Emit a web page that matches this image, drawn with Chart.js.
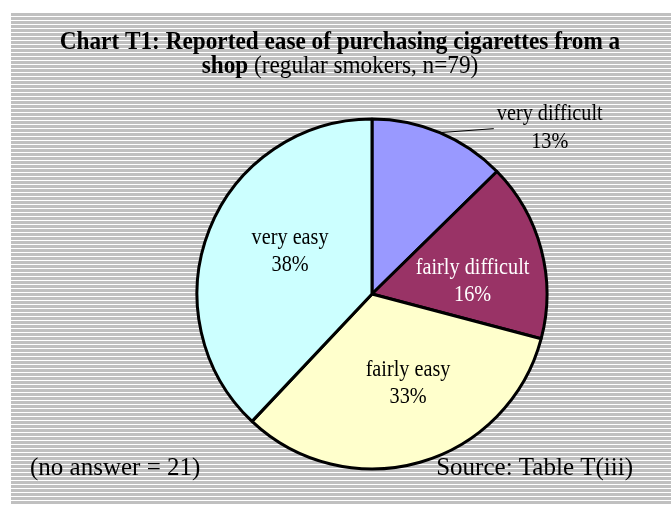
<!DOCTYPE html>
<html>
<head>
<meta charset="utf-8">
<script src="https://cdn.jsdelivr.net/npm/chart.js@4/dist/chart.umd.min.js"></script>
<style>
html,body{margin:0;padding:0;background:#fff;}
canvas{display:block;}
</style>
</head>
<body>
<canvas id="c" width="671" height="517"></canvas>
<script>
// ---- data ----
const categories = ["very difficult", "fairly difficult", "fairly easy", "very easy"];
const counts = [10, 13, 26, 30];           // regular smokers, n=79
const percentLabels = ["13%", "16%", "33%", "38%"];
const titleBold1 = "Chart T1: Reported ease of purchasing cigarettes from a";
const titleBold2 = "shop";
const titleNormal2 = " (regular smokers, n=79)";
const footLeft = "(no answer = 21)";
const footRight = "Source: Table T(iii)";

// ---- styles ----
const colors = ["#9999FF", "#993366", "#FFFFCC", "#CCFFFF"];
const labelColors = ["#000", "#fff", "#000", "#000"];
// label anchors: [angle in degrees (canvas), radius factor], null = outside label
const labelAnchor = [null, [-7.6, 0.58], [68, 0.55], [208, 0.53]];
const FONT = '"Liberation Serif", "Times New Roman", serif';

function scaledText(ctx, text, x, y, font, sx, align) {
  ctx.save();
  ctx.font = font;
  const w = ctx.measureText(text).width * sx;
  let left = x;
  if (align === 'center') left = x - w / 2;
  else if (align === 'right') left = x - w;
  ctx.translate(left, y);
  ctx.scale(sx, 1);
  ctx.textAlign = 'left';
  ctx.fillText(text, 0, 0);
  ctx.restore();
  return w;
}
function textW(ctx, text, font, sx) {
  ctx.save(); ctx.font = font; const w = ctx.measureText(text).width * sx; ctx.restore(); return w;
}

const bgPlugin = {
  id: 'bg',
  beforeDraw(chart) {
    const ctx = chart.ctx;
    ctx.save();
    ctx.fillStyle = '#fff';
    ctx.fillRect(0, 0, chart.width, chart.height);
    for (let y = 13; y < 505; y += 4) {
      ctx.fillStyle = '#c0c0c0';
      ctx.fillRect(11, y, chart.width - 11, Math.min(3, 505 - y));
    }
    ctx.restore();
  }
};

const textPlugin = {
  id: 'texts',
  afterDatasetsDraw(chart) {
    const ctx = chart.ctx;
    const meta = chart.getDatasetMeta(0);
    const LF = '23px ' + FONT, LS = 0.88;
    ctx.save();
    ctx.textBaseline = 'middle';
    meta.data.forEach((arc, i) => {
      const lines = [categories[i], percentLabels[i]];
      ctx.fillStyle = labelColors[i];
      if (labelAnchor[i]) {
        const a = labelAnchor[i][0] * Math.PI / 180;
        const r = arc.outerRadius * labelAnchor[i][1];
        const cx = arc.x + Math.cos(a) * r;
        const cy = arc.y + Math.sin(a) * r;
        scaledText(ctx, lines[0], cx, cy - 13, LF, LS, 'center');
        scaledText(ctx, lines[1], cx, cy + 14, LF, LS, 'center');
      } else {
        const mid = (arc.startAngle + arc.endAngle) / 2;
        const sx = arc.x + Math.cos(mid) * arc.outerRadius;
        const sy = arc.y + Math.sin(mid) * arc.outerRadius;
        const ex = sx + 54, ey = sy - 4;
        ctx.strokeStyle = '#000';
        ctx.lineWidth = 1;
        ctx.beginPath();
        ctx.moveTo(sx, sy);
        ctx.lineTo(ex, ey);
        ctx.stroke();
        const tx = ex + 56;
        scaledText(ctx, lines[0], tx, ey - 15, LF, LS, 'center');
        scaledText(ctx, lines[1], tx, ey + 13, LF, LS, 'center');
      }
    });

    // title
    ctx.fillStyle = '#000';
    ctx.textBaseline = 'alphabetic';
    const TB = 'bold 25px ' + FONT, TN = '25px ' + FONT, TS = 0.93;
    scaledText(ctx, titleBold1, 340, 49, TB, TS, 'center');
    const wb = textW(ctx, titleBold2, TB, TS);
    const wn = textW(ctx, titleNormal2, TN, TS);
    const x2 = 340 - (wb + wn) / 2;
    scaledText(ctx, titleBold2, x2, 73, TB, TS, 'left');
    scaledText(ctx, titleNormal2, x2 + wb, 73, TN, TS, 'left');

    // footers
    const FF = '25px ' + FONT;
    scaledText(ctx, footLeft, 30, 475, FF, 1, 'left');
    scaledText(ctx, footRight, 633, 475, FF, 1, 'right');
    ctx.restore();
  }
};

new Chart(document.getElementById('c'), {
  type: 'pie',
  data: {
    labels: categories,
    datasets: [{
      data: counts,
      backgroundColor: colors,
      borderColor: '#000',
      borderWidth: 3,
      radius: 175
    }]
  },
  options: {
    responsive: false,
    animation: false,
    layout: { padding: { top: 119, bottom: 48, left: 73, right: 0 } },
    plugins: {
      legend: { display: false },
      tooltip: { enabled: false },
      title: { display: false }
    }
  },
  plugins: [bgPlugin, textPlugin]
});
</script>
</body>
</html>
